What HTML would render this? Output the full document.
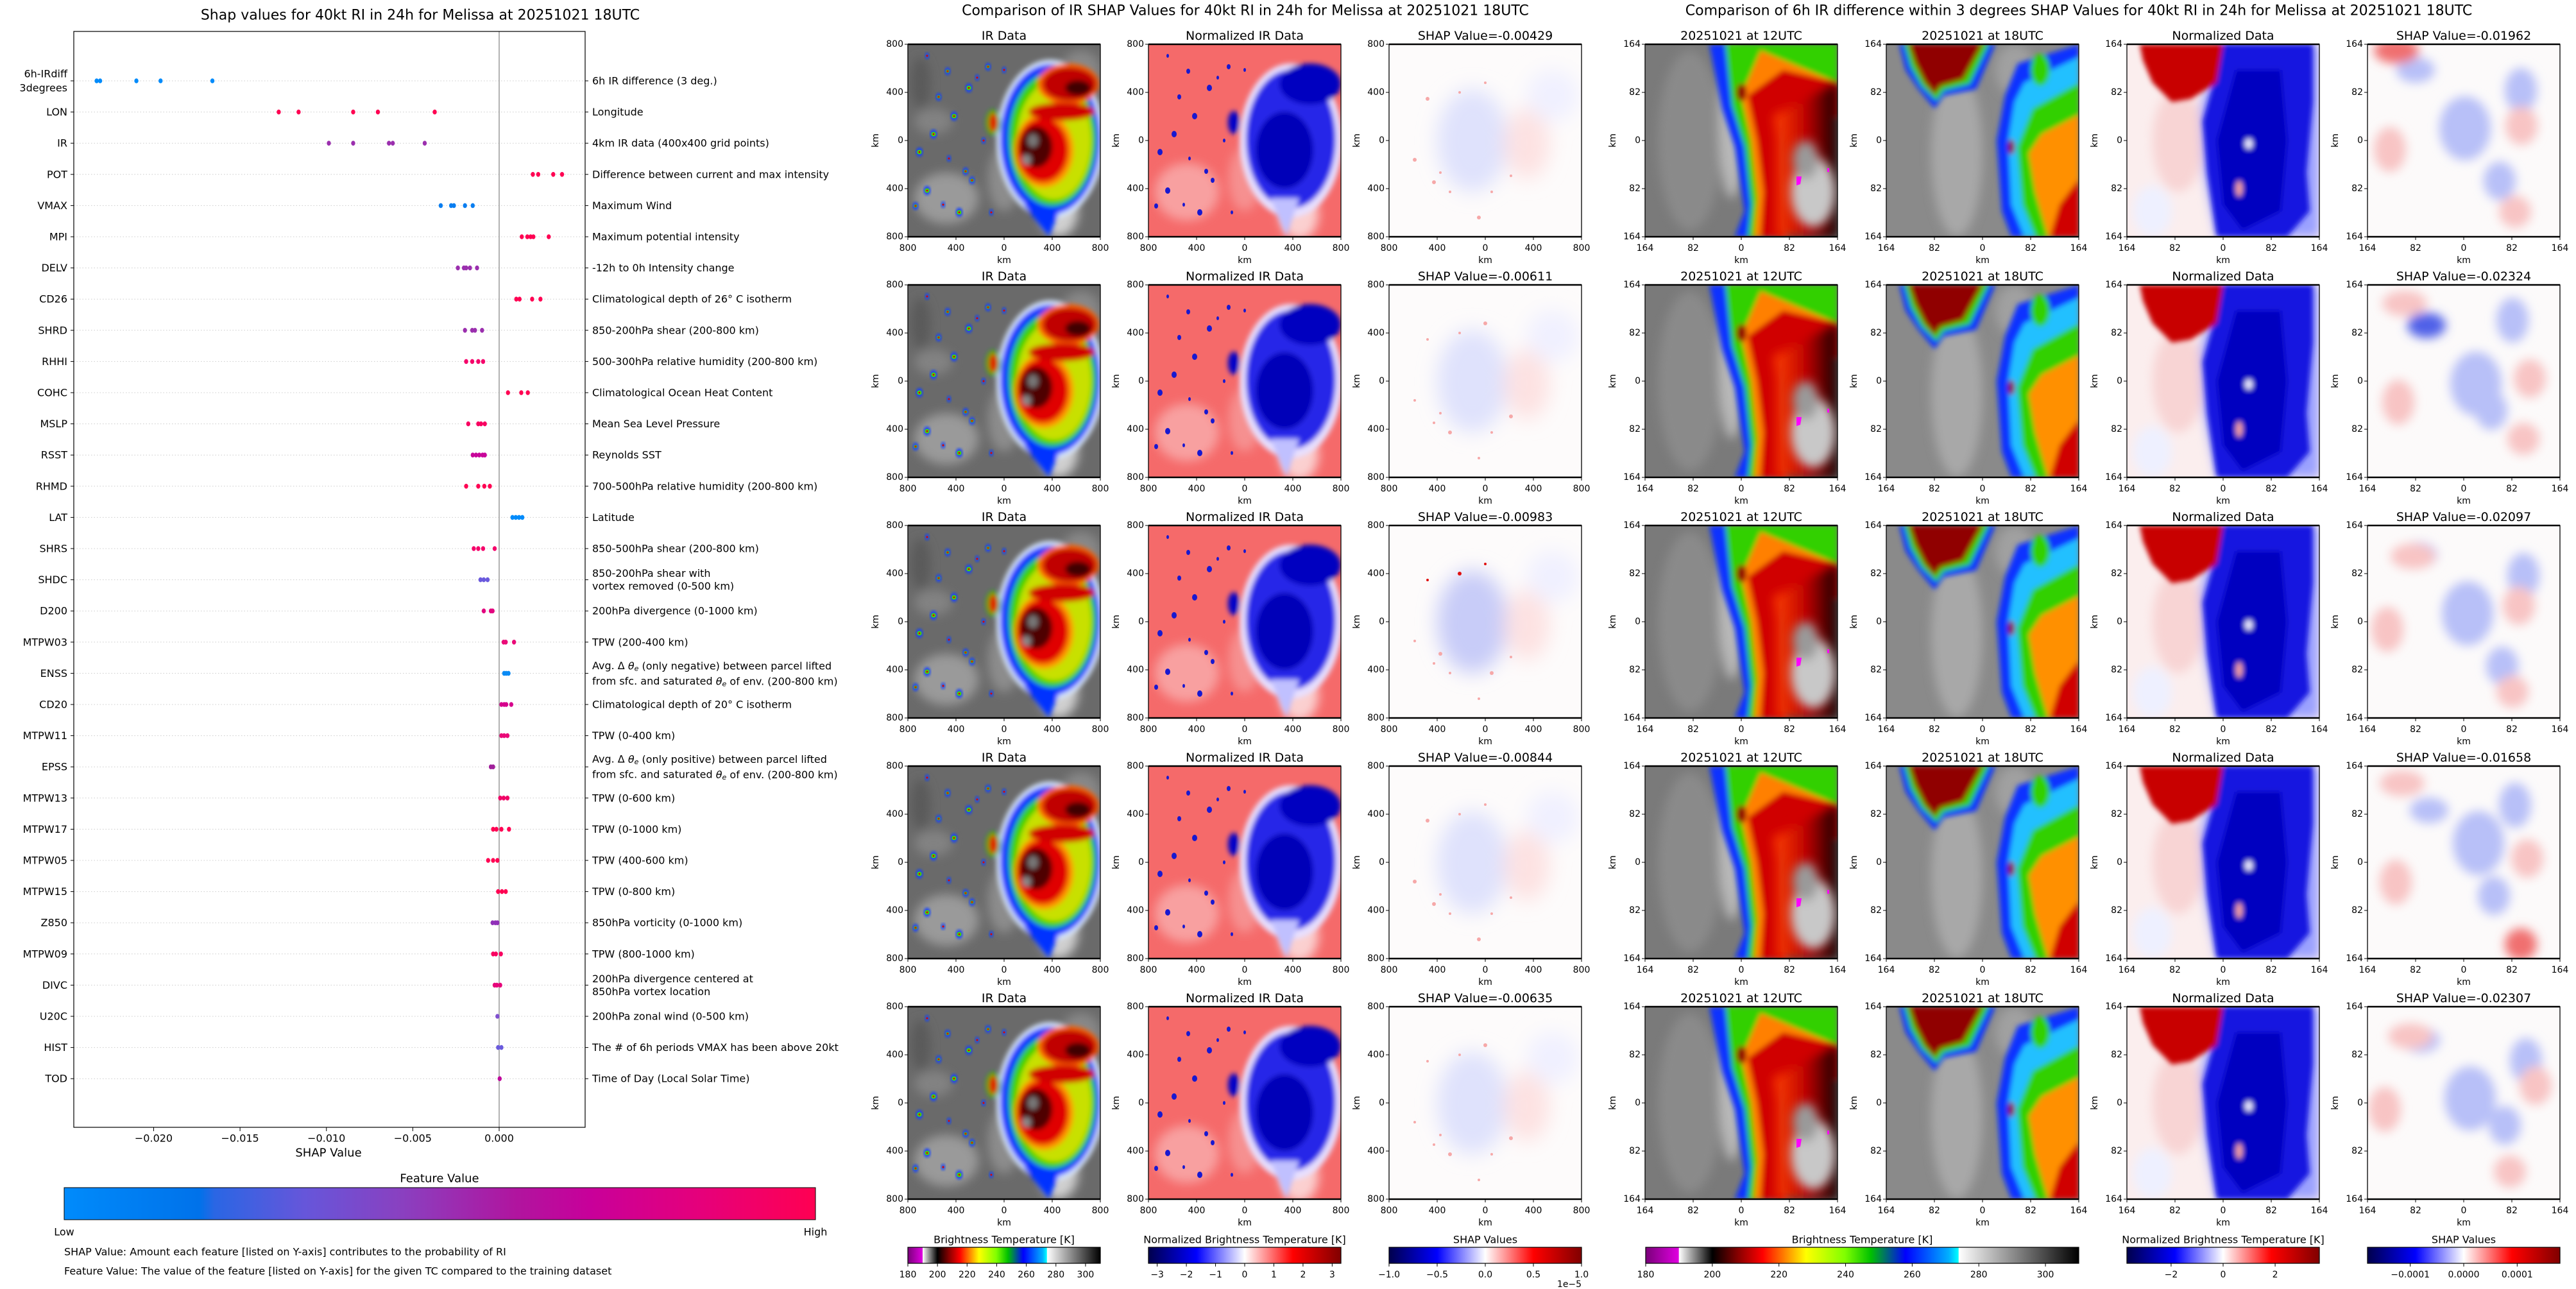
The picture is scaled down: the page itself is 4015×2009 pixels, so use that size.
<!DOCTYPE html>
<html><head><meta charset="utf-8"><title>SHAP RI Melissa</title>
<style>
html,body{margin:0;padding:0;background:#fff;}
svg{display:block;font-family:"DejaVu Sans","Liberation Sans",sans-serif;}
</style></head>
<body>
<svg id="fig" xmlns="http://www.w3.org/2000/svg" width="4015" height="2009" viewBox="0 0 4015 2009">
<defs>
<clipPath id="pc"><rect x="0" y="0" width="300" height="300"/></clipPath>
<filter id="b2" x="-20%" y="-20%" width="140%" height="140%"><feGaussianBlur stdDeviation="2"/></filter>
<filter id="b4" x="-20%" y="-20%" width="140%" height="140%"><feGaussianBlur stdDeviation="4"/></filter>
<filter id="b8" x="-30%" y="-30%" width="160%" height="160%"><feGaussianBlur stdDeviation="8"/></filter>
<filter id="b15" x="-40%" y="-40%" width="180%" height="180%"><feGaussianBlur stdDeviation="15"/></filter>
<linearGradient id="gFeat" x1="0" x2="1" y1="0" y2="0">
<stop offset="0" stop-color="#008bfb"/><stop offset="0.18" stop-color="#0072ea"/><stop offset="0.2" stop-color="#2a66e4"/><stop offset="0.32" stop-color="#6656da"/><stop offset="0.45" stop-color="#8a40c0"/><stop offset="0.6" stop-color="#b0159f"/><stop offset="0.7" stop-color="#c8009a"/><stop offset="0.85" stop-color="#e6007a"/><stop offset="1" stop-color="#ff0052"/>
</linearGradient>
<linearGradient id="gBT" x1="0" x2="1" y1="0" y2="0">
<stop offset="0" stop-color="#7a007a"/><stop offset="0.076" stop-color="#e000e0"/><stop offset="0.077" stop-color="#ffffff"/><stop offset="0.154" stop-color="#000000"/><stop offset="0.215" stop-color="#8b0000"/><stop offset="0.27" stop-color="#ff0000"/><stop offset="0.32" stop-color="#ff8000"/><stop offset="0.37" stop-color="#ffff00"/><stop offset="0.46" stop-color="#80ff00"/><stop offset="0.52" stop-color="#00c000"/><stop offset="0.6" stop-color="#0000ff"/><stop offset="0.7" stop-color="#00b0ff"/><stop offset="0.722" stop-color="#00ffff"/><stop offset="0.723" stop-color="#ffffff"/><stop offset="1" stop-color="#000000"/>
</linearGradient>
<linearGradient id="gSeis" x1="0" x2="1" y1="0" y2="0">
<stop offset="0" stop-color="#00004c"/><stop offset="0.25" stop-color="#0000ff"/><stop offset="0.5" stop-color="#ffffff"/><stop offset="0.75" stop-color="#ff0000"/><stop offset="1" stop-color="#800000"/>
</linearGradient>
<linearGradient id="gDark" x1="0" x2="1" y1="0" y2="0">
<stop offset="0" stop-color="#ff4000"/><stop offset="0.5" stop-color="#c00000"/><stop offset="1" stop-color="#100000"/>
</linearGradient>
</defs>
</svg>
<script>
// ---------------- Beeswarm data ----------------
const features = ["6h-IRdiff|3degrees","LON","IR","POT","VMAX","MPI","DELV","CD26","SHRD","RHHI","COHC","MSLP","RSST","RHMD","LAT","SHRS","SHDC","D200","MTPW03","ENSS","CD20","MTPW11","EPSS","MTPW13","MTPW17","MTPW05","MTPW15","Z850","MTPW09","DIVC","U20C","HIST","TOD"];
const descriptions = ["6h IR difference (3 deg.)","Longitude","4km IR data (400x400 grid points)","Difference between current and max intensity","Maximum Wind","Maximum potential intensity","-12h to 0h Intensity change","Climatological depth of 26° C isotherm","850-200hPa shear (200-800 km)","500-300hPa relative humidity (200-800 km)","Climatological Ocean Heat Content","Mean Sea Level Pressure","Reynolds SST","700-500hPa relative humidity (200-800 km)","Latitude","850-500hPa shear (200-800 km)","850-200hPa shear with|vortex removed (0-500 km)","200hPa divergence (0-1000 km)","TPW (200-400 km)","ENSS_SPECIAL","Climatological depth of 20° C isotherm","TPW (0-400 km)","EPSS_SPECIAL","TPW (0-600 km)","TPW (0-1000 km)","TPW (400-600 km)","TPW (0-800 km)","850hPa vorticity (0-1000 km)","TPW (800-1000 km)","200hPa divergence centered at|850hPa vortex location","200hPa zonal wind (0-500 km)","The # of 6h periods VMAX has been above 20kt","Time of Day (Local Solar Time)"];
const shapValues = [
 [-0.0233,-0.0231,-0.0210,-0.0196,-0.0166],
 [-0.01276,-0.01161,-0.00845,-0.00702,-0.00373],
 [-0.00986,-0.00845,-0.00638,-0.00616,-0.00431],
 [0.00195,0.00226,0.00313,0.00364],
 [-0.00338,-0.00278,-0.00262,-0.00198,-0.00153],
 [0.00131,0.00163,0.00182,0.00198,0.00287],
 [-0.00239,-0.00204,-0.00191,-0.00169,-0.00128],
 [0.00099,0.00118,0.00191,0.00239],
 [-0.00198,-0.00156,-0.0014,-0.00099],
 [-0.00191,-0.00156,-0.00121,-0.00093],
 [0.00051,0.00128,0.00166],
 [-0.00179,-0.00121,-0.00105,-0.00083],
 [-0.00153,-0.00134,-0.00115,-0.00096,-0.00083],
 [-0.00191,-0.00121,-0.00086,-0.00054],
 [0.00077,0.00096,0.00115,0.00134],
 [-0.00147,-0.00121,-0.00093,-0.00026],
 [-0.00108,-0.00089,-0.00067],
 [-0.00089,-0.00048,-0.00038],
 [0.00026,0.00038,0.00086],
 [0.00029,0.00041,0.00054],
 [0.00013,0.00029,0.00041,0.0007],
 [0.00013,0.00029,0.00048],
 [-0.00048,-0.00035],
 [0.00006,0.00026,0.00048],
 [-0.00035,-0.00016,0.00013,0.00057],
 [-0.00064,-0.00035,-0.0001],
 [-0.00006,0.00016,0.00038],
 [-0.00038,-0.00022,-0.0001],
 [-0.00035,-0.00019,0.0001],
 [-0.00026,-0.00013,0.00006],
 [-0.0001],
 [-0.00006,0.00013],
 [0.00003]
];
const dotColors = ["#008bfb","#ff0052","#9b2fae","#ff0052","#0a7ef0","#ff0052","#9b2fae","#ff0052","#9b2fae","#f5006a","#ff0052","#f80060","#c8069a","#ff0052","#008bfb","#f5006a","#6a5add","#e2047e","#ea0a78","#0a8bf5","#d6008c","#ea0a78","#a0209a","#f00466","#ff0052","#ff0052","#ff0052","#9030b8","#f80060","#e6047a","#8050d0","#6a5add","#c0089c"];
const xTickValues = [-0.020,-0.015,-0.010,-0.005,0.000];
const xTickLabels = ["\u22120.020","\u22120.015","\u22120.010","\u22120.005","0.000"];

// ---------------- Panel data ----------------
const irShapTitles = ["SHAP Value=-0.00429","SHAP Value=-0.00611","SHAP Value=-0.00983","SHAP Value=-0.00844","SHAP Value=-0.00635"];
const diffShapTitles = ["SHAP Value=-0.01962","SHAP Value=-0.02324","SHAP Value=-0.02097","SHAP Value=-0.01658","SHAP Value=-0.02307"];
const irTickLabels = ["800","400","0","400","800"];
const diffTickLabels = ["164","82","0","82","164"];
const btTicks = [180,200,220,240,260,280,300];
const normTicks = [-3,-2,-1,0,1,2,3];
const shapCbTicks = [-1.0,-0.5,0.0,0.5,1.0];
const normTicks2 = [-2,0,2];
const shapCbTicks2 = [-0.0001,0,0.0001];

const NS = 'http://www.w3.org/2000/svg';
const svg = document.getElementById('fig');
function mk(tag, attrs, parent){
  const e = document.createElementNS(NS, tag);
  for (const k in attrs) e.setAttribute(k, attrs[k]);
  (parent || svg).appendChild(e);
  return e;
}
function tx(x, y, s, size, anchor, parent){
  const t = mk('text', {x:x, y:y, 'font-size':size, 'text-anchor':anchor||'middle', 'dominant-baseline':'central', fill:'#000'}, parent);
  t.textContent = s;
  return t;
}

// ---------------- Left beeswarm chart ----------------
const AX = {l:115, r:912, t:49, b:1757};
function xScale(v){ return 778 + v * 26925; }
function yScale(i){ return 126 + i * 48.6; }
const left = mk('g', {});


let t = tx(655, 24, 'Shap values for 40kt RI in 24h for Melissa at 20251021 18UTC', 22, 'middle', left);


features.forEach((f, i) => {
  const y = yScale(i);
  const g = mk('line', {x1:AX.l, x2:AX.r, y1:y, y2:y, stroke:'#cccccc', 'stroke-width':1, 'stroke-dasharray':'1.5,3'}, left);
  
  
  mk('line', {x1:AX.l-5, x2:AX.l, y1:y, y2:y, stroke:'#000', 'stroke-width':1}, left);
  mk('line', {x1:AX.r, x2:AX.r+5, y1:y, y2:y, stroke:'#000', 'stroke-width':1}, left);
});
const zl = mk('line', {x1:xScale(0), x2:xScale(0), y1:AX.t, y2:AX.b, stroke:'#999999', 'stroke-width':1.5}, left);


features.forEach((f, i) => {
  const y = yScale(i);
  const parts = f.split('|');
  if (parts.length === 2){
    const a = tx(105, y-11, parts[0], 16, 'end', left);
    
    
    const b = tx(105, y+11, parts[1], 16, 'end', left);
    
    
  } else {
    const a = tx(105, y, f, 16, 'end', left);
    
    
  }
  const d = descriptions[i];
  if (d === 'ENSS_SPECIAL' || d === 'EPSS_SPECIAL'){
    const word = d === 'ENSS_SPECIAL' ? 'negative' : 'positive';
    const l1 = mk('text', {x:923, y:y-12, 'font-size':16, 'dominant-baseline':'central'}, left);
    l1.innerHTML = 'Avg. \u0394 <tspan font-style="italic">\u03b8</tspan><tspan font-size="11" dy="4" font-style="italic">e</tspan><tspan dy="-4"> (only ' + word + ') between parcel lifted</tspan>';
    
    
    const l2 = mk('text', {x:923, y:y+12, 'font-size':16, 'dominant-baseline':'central'}, left);
    l2.innerHTML = 'from sfc. and saturated <tspan font-style="italic">\u03b8</tspan><tspan font-size="11" dy="4" font-style="italic">e</tspan><tspan dy="-4"> of env. (200-800 km)</tspan>';
    
    
  } else {
    const ps = d.split('|');
    ps.forEach((p, k) => {
      const yy = ps.length === 2 ? y - 10 + 20*k : y;
      const a = tx(923, yy, p, 16, 'start', left);
      
      
    });
  }
  shapValues[i].forEach(v => {
    const c = mk('ellipse', {cx:xScale(v), cy:y, rx:3.2, ry:3.8, fill:dotColors[i]}, left);
    
    
  });
});
const fr = mk('rect', {x:AX.l, y:AX.t, width:AX.r-AX.l, height:AX.b-AX.t, fill:'none', stroke:'#000', 'stroke-width':1.2}, left);


xTickValues.forEach((v, k) => {
  mk('line', {x1:xScale(v), x2:xScale(v), y1:AX.b, y2:AX.b+6, stroke:'#000', 'stroke-width':1}, left);
  const a = tx(xScale(v), 1774, xTickLabels[k], 16, 'middle', left);
  
  
});
t = tx(512, 1797, 'SHAP Value', 18, 'middle', left);


t = tx(685, 1837, 'Feature Value', 18, 'middle', left);


const fb = mk('rect', {x:100, y:1851, width:1171, height:50, fill:'url(#gFeat)', stroke:'#000', 'stroke-width':1}, left);


t = tx(100, 1920, 'Low', 16, 'middle', left);


t = tx(1271, 1920, 'High', 16, 'middle', left);


t = tx(100, 1951, 'SHAP Value: Amount each feature [listed on Y-axis] contributes to the probability of RI', 16, 'start', left);


t = tx(100, 1981, 'Feature Value: The value of the feature [listed on Y-axis] for the given TC compared to the training dataset', 16, 'start', left);



// ---------------- Imagery helpers ----------------
const cells = [[30,18],[62,42],[95,68],[108,52],[48,82],[18,168],[64,178],[90,198],[30,228],[55,250],[12,252],[80,262],[130,262],[100,212],[72,112],[150,40],[125,35],[40,140],[118,150]];
function el(g, tag, a){ return mk(tag, a, g); }
function drawIR(g){
  el(g,'rect',{x:0,y:0,width:300,height:300,fill:'#6a6a6a'});
  const s = el(g,'g',{filter:'url(#b8)'});
  el(s,'ellipse',{cx:60,cy:240,rx:50,ry:40,fill:'#9a9a9a'});
  el(s,'ellipse',{cx:235,cy:260,rx:30,ry:40,fill:'#d0d0d0'});
  el(s,'ellipse',{cx:40,cy:120,rx:30,ry:20,fill:'#828282'});
  el(s,'ellipse',{cx:270,cy:40,rx:30,ry:30,fill:'#888'});
  el(s,'ellipse',{cx:150,cy:210,rx:25,ry:50,fill:'#8c8c8c'});
  el(s,'ellipse',{cx:20,cy:60,rx:15,ry:40,fill:'#5a5a5a'});
  const st = el(g,'g',{filter:'url(#b4)'});
  el(st,'ellipse',{cx:222,cy:148,rx:84,ry:124,fill:'#d8e8ff'});
  el(st,'ellipse',{cx:222,cy:148,rx:78,ry:117,fill:'#0030ff'});
  el(st,'path',{d:'M180 250 L220 300 L240 250 Z',fill:'#0030ff'});
  el(st,'ellipse',{cx:225,cy:148,rx:68,ry:104,fill:'#38d000'});
  el(st,'ellipse',{cx:228,cy:150,rx:58,ry:92,fill:'#c8e000'});
  el(st,'ellipse',{cx:212,cy:165,rx:46,ry:58,fill:'#ff9000'});
  el(st,'ellipse',{cx:210,cy:165,rx:40,ry:50,fill:'#e00000'});
  el(st,'ellipse',{cx:250,cy:62,rx:48,ry:32,fill:'#ff6000'});
  el(st,'ellipse',{cx:252,cy:62,rx:42,ry:26,fill:'#c00000'});
  el(st,'ellipse',{cx:240,cy:105,rx:52,ry:14,fill:'#d00000'});
  el(st,'ellipse',{cx:133,cy:122,rx:11,ry:20,fill:'#00c000'});
  el(st,'ellipse',{cx:133,cy:122,rx:7,ry:15,fill:'#e00000'});
  el(st,'ellipse',{cx:200,cy:160,rx:25,ry:32,fill:'#500000'});
  el(st,'ellipse',{cx:265,cy:68,rx:20,ry:12,fill:'#400000'});
  el(st,'ellipse',{cx:195,cy:150,rx:8,ry:10,fill:'#777'});
  el(st,'ellipse',{cx:185,cy:180,rx:7,ry:8,fill:'#888'});
  cells.forEach((c, j) => {
    const r = 3 + (j % 3);
    el(g,'ellipse',{cx:c[0],cy:c[1],rx:r,ry:r+2,fill:'#1040ff',filter:'url(#b2)'});
    el(g,'circle',{cx:c[0],cy:c[1],r:r-1.5,fill:'#40e000'});
    el(g,'circle',{cx:c[0],cy:c[1],r:1.5,fill:'#e00000'});
  });
}
function drawNorm(g){
  el(g,'rect',{x:0,y:0,width:300,height:300,fill:'#f56a6a'});
  const s = el(g,'g',{filter:'url(#b8)'});
  el(s,'ellipse',{cx:60,cy:230,rx:50,ry:45,fill:'#f8a0a0'});
  el(s,'ellipse',{cx:235,cy:265,rx:30,ry:40,fill:'#fbd0d0'});
  el(s,'ellipse',{cx:150,cy:210,rx:25,ry:50,fill:'#f69090'});
  const st = el(g,'g',{filter:'url(#b4)'});
  el(st,'ellipse',{cx:222,cy:150,rx:80,ry:120,fill:'#e8e0ff'});
  el(st,'ellipse',{cx:222,cy:148,rx:70,ry:108,fill:'#2828e8'});
  el(st,'path',{d:'M190 240 L215 300 L235 240 Z',fill:'#c0c0ff'});
  el(st,'ellipse',{cx:212,cy:165,rx:45,ry:60,fill:'#0000b8'});
  el(st,'ellipse',{cx:252,cy:62,rx:48,ry:32,fill:'#0000c0'});
  el(st,'ellipse',{cx:133,cy:122,rx:9,ry:18,fill:'#0000c8'});
  cells.forEach((c, j) => { el(g,'ellipse',{cx:c[0],cy:c[1],rx:2+(j%3),ry:3+(j%3),fill:'#1818d0'}); });
}
function drawShapIR(g, k){
  el(g,'rect',{x:0,y:0,width:300,height:300,fill:'#fdfbfb'});
  const s = el(g,'g',{filter:'url(#b15)'});
  el(s,'ellipse',{cx:130,cy:150,rx:55,ry:80,fill: k===2 ? '#c8ccf8' : '#dfe2fc'});
  el(s,'ellipse',{cx:215,cy:155,rx:35,ry:55,fill:'#fde2e2'});
  el(s,'ellipse',{cx:255,cy:80,rx:40,ry:40,fill:'#f0f0ff'});
  const sp = [[60,85],[110,75],[150,60],[140,270],[80,200],[95,230],[40,180],[160,230],[190,205],[70,215]];
  sp.forEach((p, j) => {
    el(g,'circle',{cx:p[0],cy:p[1],r: (j+k)%3===0 ? 3 : 2,fill: (k===2 && j<3) ? '#e01010' : '#f6a8a8'});
  });
}
function drawT12(g){
  el(g,'rect',{x:0,y:0,width:300,height:300,fill:'#7a7a7a'});
  const s = el(g,'g',{filter:'url(#b8)'});
  el(s,'ellipse',{cx:70,cy:150,rx:50,ry:140,fill:'#8a8a8a'});
  el(s,'ellipse',{cx:135,cy:120,rx:20,ry:120,fill:'#b8b8b8'});
  const st = el(g,'g',{filter:'url(#b4)'});
  el(st,'path',{d:'M100 0 L300 0 L300 300 L140 300 L155 260 L140 160 L120 100 Z',fill:'#1030ff'});
  el(st,'path',{d:'M125 0 L300 0 L300 300 L160 300 L165 250 L155 160 L135 95 Z',fill:'#30d000'});
  el(st,'path',{d:'M180 10 L300 60 L300 300 L170 300 L175 240 L165 150 L150 80 Z',fill:'#ff8000'});
  el(st,'path',{d:'M215 40 L300 60 L300 300 L180 300 L185 230 L175 150 L160 80 Z',fill:'#d00000'});
  el(st,'ellipse',{cx:150,cy:75,rx:8,ry:14,fill:'#900000'});
  el(g,'path',{d:'M200 110 L300 60 L300 300 L205 300 L205 150 Z',fill:'url(#gDark)',filter:'url(#b8)'});
  el(st,'path',{d:'M215 120 L300 115 L300 300 L220 300 L215 200 Z',fill:'#505050'});
  const w = el(g,'g',{filter:'url(#b8)'});
  el(w,'ellipse',{cx:262,cy:230,rx:35,ry:55,fill:'#c8c8c8'});
  el(w,'ellipse',{cx:250,cy:180,rx:20,ry:30,fill:'#9a9a9a'});
  el(g,'path',{d:'M236 206 l8 0 l-2 12 l-6 2 Z',fill:'#ff00ff'});
  el(g,'rect',{x:284,y:193,width:3,height:6,fill:'#ff00ff'});
}
function drawT18(g){
  el(g,'rect',{x:0,y:0,width:300,height:300,fill:'#8a8a8a'});
  const s = el(g,'g',{filter:'url(#b8)'});
  el(s,'ellipse',{cx:110,cy:170,rx:40,ry:130,fill:'#a8a8a8'});
  el(s,'ellipse',{cx:200,cy:40,rx:30,ry:40,fill:'#a0a0a0'});
  const st = el(g,'g',{filter:'url(#b4)'});
  el(st,'path',{d:'M20 0 L170 0 L140 70 L90 80 L75 100 L50 70 L30 40 Z',fill:'#1030ff'});
  el(st,'path',{d:'M28 0 L160 0 L130 62 L90 72 L78 88 L55 65 L38 35 Z',fill:'#30d000'});
  el(st,'path',{d:'M35 0 L150 0 L120 55 L85 65 L75 78 L60 60 L45 30 Z',fill:'#900000'});
  el(st,'path',{d:'M205 30 L300 0 L300 300 L195 300 L180 260 L172 150 L185 80 Z',fill:'#1030ff'});
  el(st,'path',{d:'M215 60 L300 20 L300 300 L215 300 L195 250 L190 150 L200 90 Z',fill:'#20c0ff'});
  el(st,'path',{d:'M228 100 L300 60 L300 300 L232 300 L212 250 L204 160 Z',fill:'#30d000'});
  el(st,'path',{d:'M242 140 L300 110 L300 300 L252 300 L232 230 L222 170 Z',fill:'#ff9000'});
  el(st,'path',{d:'M270 250 L300 210 L300 300 L255 300 Z',fill:'#d00000'});
  el(st,'ellipse',{cx:195,cy:160,rx:5,ry:12,fill:'#900000'});
  el(st,'ellipse',{cx:240,cy:40,rx:15,ry:25,fill:'#30d000'});
}
function drawNormDiff(g){
  el(g,'rect',{x:0,y:0,width:300,height:300,fill:'#fbeeee'});
  const s = el(g,'g',{filter:'url(#b8)'});
  el(s,'ellipse',{cx:80,cy:150,rx:40,ry:80,fill:'#f8d4d4'});
  el(s,'ellipse',{cx:40,cy:260,rx:30,ry:40,fill:'#eef0ff'});
  el(s,'path',{d:'M140 0 L300 0 L300 300 L140 300 L120 200 L115 100 Z',fill:'#9aa0ff'});
  const st = el(g,'g',{filter:'url(#b4)'});
  el(st,'path',{d:'M150 0 L290 0 L290 90 L280 200 L285 260 L250 300 L140 300 L125 200 L118 120 L135 60 Z',fill:'#1818e0'});
  el(st,'path',{d:'M170 40 L240 40 L250 150 L240 260 L180 290 L150 250 L140 150 Z',fill:'#0000c0'});
  el(st,'path',{d:'M20 0 L150 0 L140 60 L100 85 L70 90 L40 60 L25 25 Z',fill:'#c80000'});
  el(st,'ellipse',{cx:175,cy:225,rx:5,ry:12,fill:'#f4a0a0'});
  el(st,'ellipse',{cx:190,cy:155,rx:6,ry:8,fill:'#e8e8ff'});
}
function drawShapDiff(g, k){
  el(g,'rect',{x:0,y:0,width:300,height:300,fill:'#fcfafa'});
  const s = el(g,'g',{filter:'url(#b8)'});
  const blues = [[90,60,30,20],[160,140,40,50],[240,70,25,35],[200,200,25,30]];
  const reds = [[60,30,35,20],[250,140,25,30],[40,170,25,35],[230,260,25,25]];
  blues.forEach((b, j) => { el(s,'ellipse',{cx:b[0]+((k*17+j*7)%30)-15,cy:b[1]+((k*23+j*11)%40)-20,rx:b[2],ry:b[3],fill: (k===1 && j===0) ? '#5060e8' : '#b8c0f8'}); });
  reds.forEach((r, j) => { el(s,'ellipse',{cx:r[0]+((k*13+j*5)%30)-15,cy:r[1]+((k*19+j*7)%40)-20,rx:r[2],ry:r[3],fill: (k===0 && j===0) || (k===3 && j===3) ? '#f07070' : '#f8c4c4'}); });
}

function axesFrame(g, labels, title){
  const tt = tx(150, -13, title, 19, 'middle', g);
  
  
  mk('rect', {x:0, y:0, width:300, height:300, fill:'none', stroke:'#000', 'stroke-width':1.3}, g);
  mk('line', {x1:0, x2:300, y1:0, y2:0, stroke:'#000', 'stroke-width':2.5}, g);
  mk('line', {x1:0, x2:300, y1:300, y2:300, stroke:'#000', 'stroke-width':2.5}, g);
  labels.forEach((lab, k) => {
    const p = k * 75;
    mk('line', {x1:-5, x2:0, y1:p, y2:p, stroke:'#000', 'stroke-width':1}, g);
    mk('line', {x1:p, x2:p, y1:300, y2:305, stroke:'#000', 'stroke-width':1}, g);
    const a = tx(-7, p, lab, 14, 'end', g);
    
    
    const b = tx(p, 318, lab, 14, 'middle', g);
    
    
  });
  const xl = tx(150, 337, 'km', 14, 'middle', g);
  
  
  const yl = mk('text', {x:0, y:0, 'font-size':14, 'text-anchor':'middle', 'dominant-baseline':'central', transform:'translate(-50,150) rotate(-90)'}, g);
  yl.textContent = 'km';
  
  
}

const rowTops = [69,444,819,1194,1569];
const midXs = [1415,1790,2165];
const rightXs = [2564,2940,3315,3690];

t = tx(1941, 17, 'Comparison of IR SHAP Values for 40kt RI in 24h for Melissa at 20251021 18UTC', 22, 'middle');


t = tx(3240, 17, 'Comparison of 6h IR difference within 3 degrees SHAP Values for 40kt RI in 24h for Melissa at 20251021 18UTC', 22, 'middle');



rowTops.forEach((yt, r) => {
  const specs = [
    [midXs[0], 'ir-data-panel', drawIR, 'IR Data', irTickLabels],
    [midXs[1], 'normalized-ir-panel', drawNorm, 'Normalized IR Data', irTickLabels],
    [midXs[2], 'ir-shap-panel', g => drawShapIR(g, r), irShapTitles[r], irTickLabels],
    [rightXs[0], 'ir-12utc-panel', drawT12, '20251021 at 12UTC', diffTickLabels],
    [rightXs[1], 'ir-18utc-panel', drawT18, '20251021 at 18UTC', diffTickLabels],
    [rightXs[2], 'normalized-diff-panel', drawNormDiff, 'Normalized Data', diffTickLabels],
    [rightXs[3], 'diff-shap-panel', g => drawShapDiff(g, r), diffShapTitles[r], diffTickLabels]
  ];
  specs.forEach(sp => {
    const g = mk('g', {transform:'translate(' + sp[0] + ',' + yt + ')'});
    
    
    const img = mk('g', {'clip-path':'url(#pc)'}, g);
    sp[2](img);
    axesFrame(g, sp[4], sp[3]);
  });
});

// ---------------- Colorbars ----------------
function colorbar(name, x, w, title, grad, ticks, vmin, vmax, fmt){
  const g = mk('g', {});
  
  
  const tt = tx(x + w/2, 1932, title, 16, 'middle', g);
  
  
  mk('rect', {x:x, y:1944, width:w, height:25, fill:'url(#' + grad + ')', stroke:'#000', 'stroke-width':1.2}, g);
  ticks.forEach(v => {
    const px = x + (v - vmin) / (vmax - vmin) * w;
    mk('line', {x1:px, x2:px, y1:1969, y2:1974, stroke:'#000', 'stroke-width':1}, g);
    const a = tx(px, 1987, fmt(v), 14, 'middle', g);
    
    
  });
}
const mfmt = s => s.replace('-', '\u2212');
colorbar('bt-colorbar', 1415, 300, 'Brightness Temperature [K]', 'gBT', btTicks, 180, 310, v => String(v));
colorbar('normalized-bt-colorbar', 1790, 300, 'Normalized Brightness Temperature [K]', 'gSeis', normTicks, -3.3, 3.3, v => mfmt(String(v)));
colorbar('shap-colorbar', 2165, 300, 'SHAP Values', 'gSeis', shapCbTicks, -1, 1, v => mfmt(v.toFixed(1)));
t = tx(2446, 2002, '1e\u22125', 14, 'middle');


colorbar('diff-bt-colorbar', 2565, 675, 'Brightness Temperature [K]', 'gBT', btTicks, 180, 310, v => String(v));
colorbar('diff-normalized-colorbar', 3315, 300, 'Normalized Brightness Temperature [K]', 'gSeis', normTicks2, -3.7, 3.7, v => mfmt(String(v)));
colorbar('diff-shap-colorbar', 3690, 300, 'SHAP Values', 'gSeis', shapCbTicks2, -0.00018, 0.00018, v => mfmt(v.toFixed(4)));
</script>
</body></html>
